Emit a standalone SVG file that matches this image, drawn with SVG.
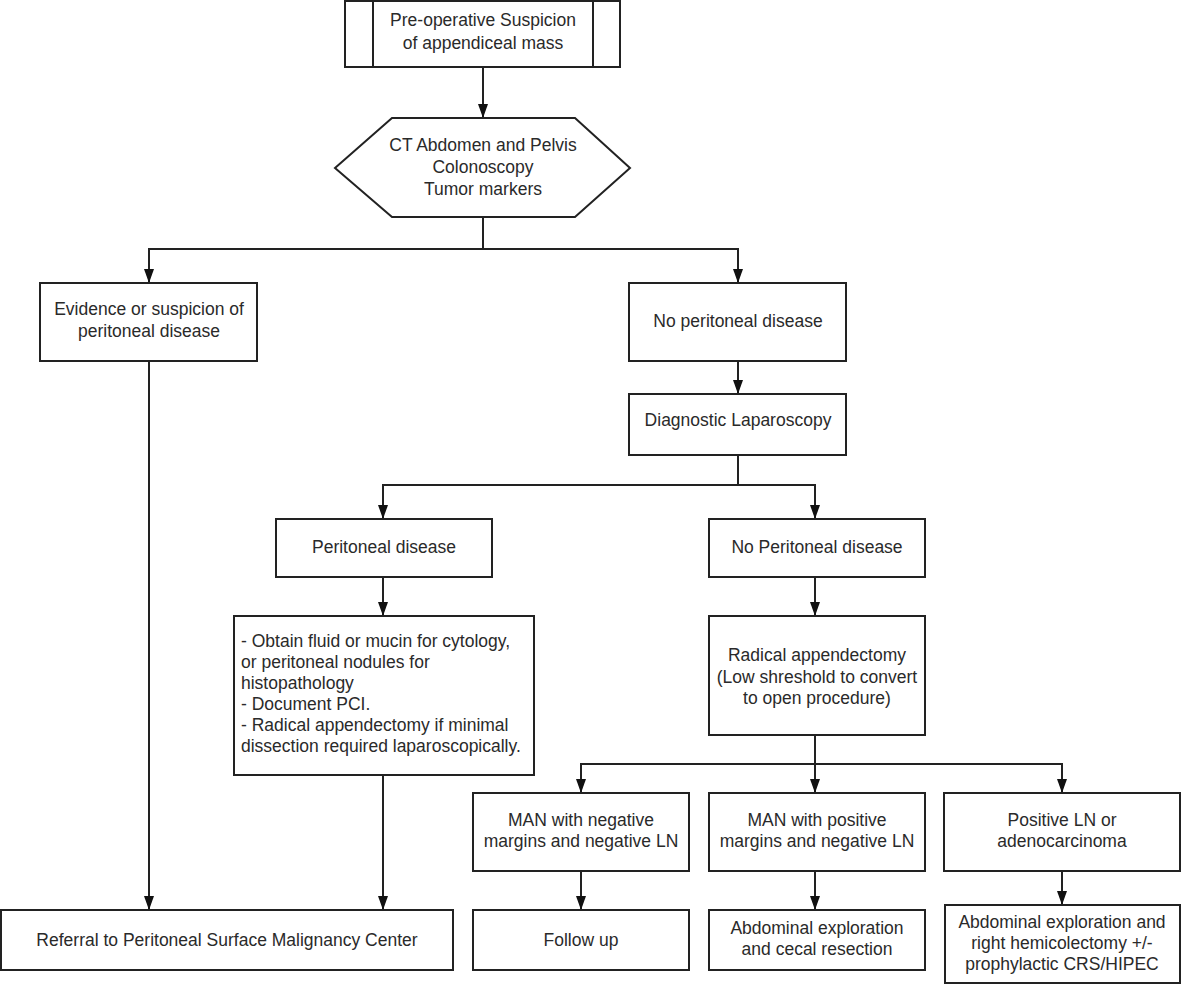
<svg xmlns="http://www.w3.org/2000/svg" width="1182" height="986" viewBox="0 0 1182 986">
<style>
.n{fill:#fff;stroke:#222;stroke-width:2}
.t{font-family:"Liberation Sans",Arial,sans-serif;font-size:17.5px;fill:#2a2a2a;text-anchor:middle}
.l{text-anchor:start}
.c{fill:none;stroke:#222;stroke-width:2}
</style>
<defs>
<marker id="ah" viewBox="0 0 14 10" markerWidth="14" markerHeight="10" refX="14" refY="5" orient="auto" markerUnits="userSpaceOnUse">
<path d="M0,0 L14,5 L0,10 z" fill="#111"/>
</marker>
</defs>
<rect width="1182" height="986" fill="#fff"/>
<g id="connectors">
<path class="c" d="M483,67 V118" marker-end="url(#ah)"/>
<path class="c" d="M483,217 V249"/>
<path class="c" d="M483,249 H149 V283" marker-end="url(#ah)"/>
<path class="c" d="M483,249 H738 V283" marker-end="url(#ah)"/>
<path class="c" d="M738,361 V394" marker-end="url(#ah)"/>
<path class="c" d="M738,455 V485"/>
<path class="c" d="M738,485 H383 V519" marker-end="url(#ah)"/>
<path class="c" d="M738,485 H815 V519" marker-end="url(#ah)"/>
<path class="c" d="M383,577 V616" marker-end="url(#ah)"/>
<path class="c" d="M815,577 V616" marker-end="url(#ah)"/>
<path class="c" d="M815,735 V793" marker-end="url(#ah)"/>
<path class="c" d="M815,764 H581 V793" marker-end="url(#ah)"/>
<path class="c" d="M815,764 H1062 V793" marker-end="url(#ah)"/>
<path class="c" d="M581,871 V910" marker-end="url(#ah)"/>
<path class="c" d="M815,871 V910" marker-end="url(#ah)"/>
<path class="c" d="M1062,871 V905" marker-end="url(#ah)"/>
<path class="c" d="M149,361 V910" marker-end="url(#ah)"/>
<path class="c" d="M383,775 V910" marker-end="url(#ah)"/>
</g>
<g id="start">
<rect class="n" x="345" y="1" width="275" height="66"/>
<line class="c" x1="373" y1="1" x2="373" y2="67"/>
<line class="c" x1="593" y1="1" x2="593" y2="67"/>
<text class="t" x="483" y="26">Pre-operative Suspicion</text>
<text class="t" x="483" y="49">of appendiceal mass</text>
</g>
<g id="workup">
<polygon class="n" points="335,168 392,118 575,118 630,168 575,217 392,217"/>
<text class="t" x="483" y="151">CT Abdomen and Pelvis</text>
<text class="t" x="483" y="173">Colonoscopy</text>
<text class="t" x="483" y="195">Tumor markers</text>
</g>
<g id="evidence">
<rect class="n" x="40" y="283" width="217" height="78"/>
<text class="t" x="149" y="315">Evidence or suspicion of</text>
<text class="t" x="149" y="337">peritoneal disease</text>
</g>
<g id="no-peritoneal">
<rect class="n" x="629" y="283" width="217" height="78"/>
<text class="t" x="738" y="327">No peritoneal disease</text>
</g>
<g id="diag-lap">
<rect class="n" x="629" y="394" width="217" height="61"/>
<text class="t" x="738" y="426">Diagnostic Laparoscopy</text>
</g>
<g id="peritoneal-disease">
<rect class="n" x="276" y="519" width="216" height="58"/>
<text class="t" x="384" y="553">Peritoneal disease</text>
</g>
<g id="no-peritoneal-2">
<rect class="n" x="709" y="519" width="216" height="58"/>
<text class="t" x="817" y="553">No Peritoneal disease</text>
</g>
<g id="obtain">
<rect class="n" x="234" y="616" width="300" height="159"/>
<text class="t l" x="241" y="647">- Obtain fluid or mucin for cytology,</text>
<text class="t l" x="241" y="668">or peritoneal nodules for</text>
<text class="t l" x="241" y="689">histopathology</text>
<text class="t l" x="241" y="710">- Document PCI.</text>
<text class="t l" x="241" y="731">- Radical appendectomy if minimal</text>
<text class="t l" x="241" y="752">dissection required laparoscopically.</text>
</g>
<g id="radical">
<rect class="n" x="709" y="616" width="216" height="119"/>
<text class="t" x="817" y="661">Radical appendectomy</text>
<text class="t" x="817" y="683">(Low shreshold to convert</text>
<text class="t" x="817" y="704">to open procedure)</text>
</g>
<g id="man-neg">
<rect class="n" x="473" y="793" width="216" height="78"/>
<text class="t" x="581" y="826">MAN with negative</text>
<text class="t" x="581" y="847">margins and negative LN</text>
</g>
<g id="man-pos">
<rect class="n" x="709" y="793" width="216" height="78"/>
<text class="t" x="817" y="826">MAN with positive</text>
<text class="t" x="817" y="847">margins and negative LN</text>
</g>
<g id="pos-ln">
<rect class="n" x="944" y="793" width="236" height="78"/>
<text class="t" x="1062" y="826">Positive LN or</text>
<text class="t" x="1062" y="847">adenocarcinoma</text>
</g>
<g id="referral">
<rect class="n" x="1" y="910" width="452" height="60"/>
<text class="t" x="227" y="946">Referral to Peritoneal Surface Malignancy Center</text>
</g>
<g id="follow-up">
<rect class="n" x="473" y="910" width="216" height="60"/>
<text class="t" x="581" y="946">Follow up</text>
</g>
<g id="cecal">
<rect class="n" x="709" y="910" width="216" height="60"/>
<text class="t" x="817" y="934">Abdominal exploration</text>
<text class="t" x="817" y="955">and cecal resection</text>
</g>
<g id="hemicolectomy">
<rect class="n" x="945" y="905" width="235" height="78"/>
<text class="t" x="1062" y="928">Abdominal exploration and</text>
<text class="t" x="1062" y="949">right hemicolectomy +/-</text>
<text class="t" x="1062" y="970">prophylactic CRS/HIPEC</text>
</g>
</svg>
